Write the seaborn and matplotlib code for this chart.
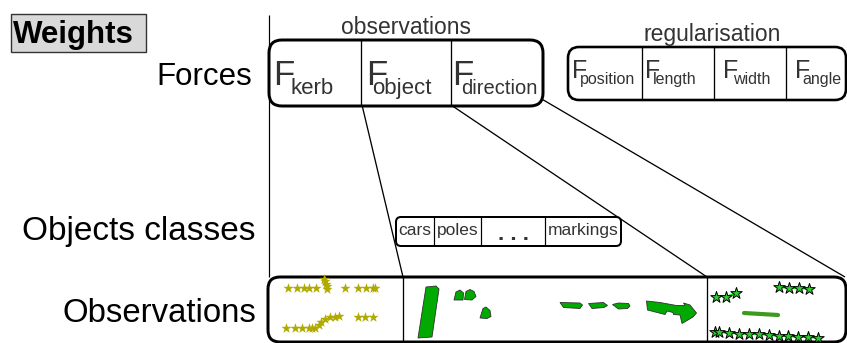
import matplotlib
matplotlib.use("Agg")
import matplotlib.pyplot as plt
import seaborn as sns
import pandas as pd
from matplotlib.patches import FancyBboxPatch, Polygon, Rectangle

sns.set_theme(style="white")
plt.rcParams['font.family'] = ['Liberation Sans', 'DejaVu Sans']

# ---------------- data (text) ----------------
title = "Weights"
row_labels = ["Forces", "Objects classes", "Observations"]
obs_group = "observations"
reg_group = "regularisation"
force_symbol = "F"
obs_forces = ["kerb", "object", "direction"]
reg_forces = ["position", "length", "width", "angle"]
object_classes = ["cars", "poles", ". . .", "markings"]

# ---------------- data (observations) ----------------
kerb_top_x = [288, 297, 304, 308.5, 315.5, 324, 325, 326, 326.5, 327, 344.5, 358, 366, 373, 375]
kerb_top_y = [287.7, 287.7, 287.7, 287.7, 287.7, 278.5, 281, 283.5, 286, 288.5, 287.7, 287.7, 287.7, 287.7, 287.7]
kerb_bot_x = [286, 295, 302, 308.5, 312, 315, 318.5, 321, 324.5, 329.5, 334.5, 339, 357.5, 364.5, 372.5]
kerb_bot_y = [328, 328, 327.5, 328, 328, 327.5, 325, 322, 319, 316.5, 316.5, 316, 316.5, 316.5, 316.5]

track_a_x = [716, 726, 736]
track_a_y = [297, 297, 293]
track_b_x = [779, 789, 799, 809]
track_b_y = [287, 288, 288, 289]
track_c_x = [715, 719, 729, 739, 749, 759, 769, 779, 788, 798, 808, 818]
track_c_y = [332, 332, 333, 333.5, 334, 334, 335, 336, 336, 337, 337, 338]
lane_x = [744, 778]
lane_y = [313, 315]

pole_shape = [(418, 338), (426, 287), (436, 286), (439, 289), (432, 337)]
blob_a = [(454, 300), (456, 292), (460, 290), (463.5, 293), (463, 300)]
blob_b = [(464.5, 299.5), (466, 291.5), (470, 289.5), (474, 291.5), (476, 296.5), (472, 300)]
blob_c = [(480, 318), (483, 308.5), (486, 307), (490, 310.5), (491, 316.5), (487, 318.5)]
dash_a = [(560, 302.5), (580, 303), (582.5, 305), (580, 308.5), (563.5, 307.5)]
dash_b = [(588.5, 303.5), (603.5, 302.5), (607.5, 305.5), (604, 307.5), (592, 308.5)]
dash_c = [(612.5, 304.5), (618.5, 303), (628.5, 303.5), (630, 306), (627.5, 308.5), (618.5, 309)]
arrow_shape = [(646.5, 301), (660, 302.5), (676.5, 305.5), (685, 305.5), (683.5, 303),
               (690, 305), (696.5, 313), (693, 317), (682, 323.5), (680, 315),
               (673.5, 314.5), (673, 312.5), (667, 311), (665, 314.5), (647.5, 310)]
object_shapes = [pole_shape, blob_a, blob_b, blob_c, dash_a, dash_b, dash_c, arrow_shape]

# ---------------- figure ----------------
W, H = 847, 343
fig = plt.figure(figsize=(W / 100, H / 100), dpi=100)
ax = fig.add_axes([0, 0, 1, 1])
ax.set_xlim(0, W)
ax.set_ylim(H, 0)
ax.axis("off")

PX = 0.72  # points per pixel
dark = "#333333"

def rbox(x0, y0, x1, y1, r, lw):
    ax.add_patch(FancyBboxPatch((x0, y0), x1 - x0, y1 - y0,
                                boxstyle=f"round,pad=0,rounding_size={r}",
                                fc="white", ec="black", lw=lw, zorder=3))

def seg(x0, y0, x1, y1, lw=1.3 * PX, color="black", z=2):
    ax.plot([x0, x1], [y0, y1], color=color, lw=lw, zorder=z, solid_capstyle="butt")

# title box
ax.add_patch(Rectangle((10.7, 14.3), 135, 37.4, fc="#d9d9d9", ec="#333333", lw=1.0, zorder=3))
ax.text(13, 42.5, title, fontsize=22.5, fontweight="bold", color="black", va="baseline", ha="left", zorder=4)

# vertical axis line
seg(269, 15, 269, 277, lw=1.2 * PX)

# connector lines
seg(362, 105, 403, 277)
seg(451, 105, 707, 277)
seg(540, 98, 845, 277)

# row labels
label_pos = [(252, 85, 22.5), (256, 240, 24), (256, 322, 23.7)]
for lab, (x, y, fs) in zip(row_labels, label_pos):
    ax.text(x, y, lab, fontsize=fs, color="black", ha="right", va="baseline", zorder=4)

# observation forces box
rbox(269, 40, 543, 106, 13, 3 * PX)
for x in [361, 451]:
    seg(x, 40, x, 106, lw=1.3 * PX, z=4)
ax.text(406, 34.5, obs_group, fontsize=16.5, color=dark, ha="center", va="baseline", zorder=4)
F_x = [273, 366, 452.5]
sub_x = [291, 372, 461.5]
sub_fs = [16, 16, 14.5]
for name, fx, sx, fs in zip(obs_forces, F_x, sub_x, sub_fs):
    ax.text(fx, 85, force_symbol, fontsize=25, color=dark, ha="left", va="baseline", zorder=5)
    ax.text(sx, 94, name, fontsize=fs, color=dark, ha="left", va="baseline", zorder=5)

# regularisation box
rbox(568, 47, 846, 100, 11, 2.6 * PX)
for x in [642, 714, 786]:
    seg(x, 47, x, 100, lw=1.3 * PX, z=4)
ax.text(712, 40.5, reg_group, fontsize=16.5, color=dark, ha="center", va="baseline", zorder=4)
RF_x = [571.5, 645, 723, 795]
Rsub_x = [580, 653, 733, 802]
for name, fx, sx in zip(reg_forces, RF_x, Rsub_x):
    ax.text(fx, 78, force_symbol, fontsize=18, color=dark, ha="left", va="baseline", zorder=5)
    ax.text(sx, 84, name, fontsize=11.5, color=dark, ha="left", va="baseline", zorder=5)

# object classes box
rbox(396, 217, 621, 246, 5, 2 * PX)
cls_bounds = [396, 434, 481, 545, 621]
for x in cls_bounds[1:-1]:
    seg(x, 217, x, 246, lw=1.2 * PX, z=4)
for i, name in enumerate(object_classes):
    cx = (cls_bounds[i] + cls_bounds[i + 1]) / 2
    if name.startswith("."):
        ax.text(cx, 240.5, name, fontsize=16, fontweight="bold", color=dark,
                ha="center", va="baseline", zorder=5)
    else:
        ax.text(cx, 235, name, fontsize=12.5, color=dark, ha="center", va="baseline", zorder=5)

# observations box
rbox(268, 277, 846, 342, 12, 3 * PX)
for x in [403, 707]:
    seg(x, 277, x, 342, lw=1.3 * PX, z=4)

# kerb detections
kerb = pd.DataFrame({"x": kerb_top_x + kerb_bot_x, "y": kerb_top_y + kerb_bot_y})
sns.scatterplot(data=kerb, x="x", y="y", marker="*", s=60, color="#b0aa00",
                linewidth=0, ax=ax, legend=False, zorder=6)

# object detections
for shp in object_shapes:
    ax.add_patch(Polygon(shp, closed=True, fc="#00aa00", ec="#303030", lw=0.6, zorder=6))

# direction tracks
for tx, ty, start in [(track_a_x, track_a_y, 1), (track_b_x, track_b_y, 0), (track_c_x, track_c_y, 0)]:
    sns.lineplot(x=tx[start:], y=ty[start:], sort=False, estimator=None, color="#11e011",
                 lw=1.4, ax=ax, zorder=6)
    sns.scatterplot(x=tx, y=ty, marker="*", s=75, color="#2ecc2e", edgecolor="black",
                    linewidth=0.7, ax=ax, legend=False, zorder=7)
sns.lineplot(x=lane_x, y=lane_y, sort=False, estimator=None, color="#3c9a1e", lw=3.0,
             ax=ax, zorder=6)

ax.set_xlim(0, W)
ax.set_ylim(H, 0)
ax.set_xlabel("")
ax.set_ylabel("")
fig.savefig("out.png", dpi=100)
